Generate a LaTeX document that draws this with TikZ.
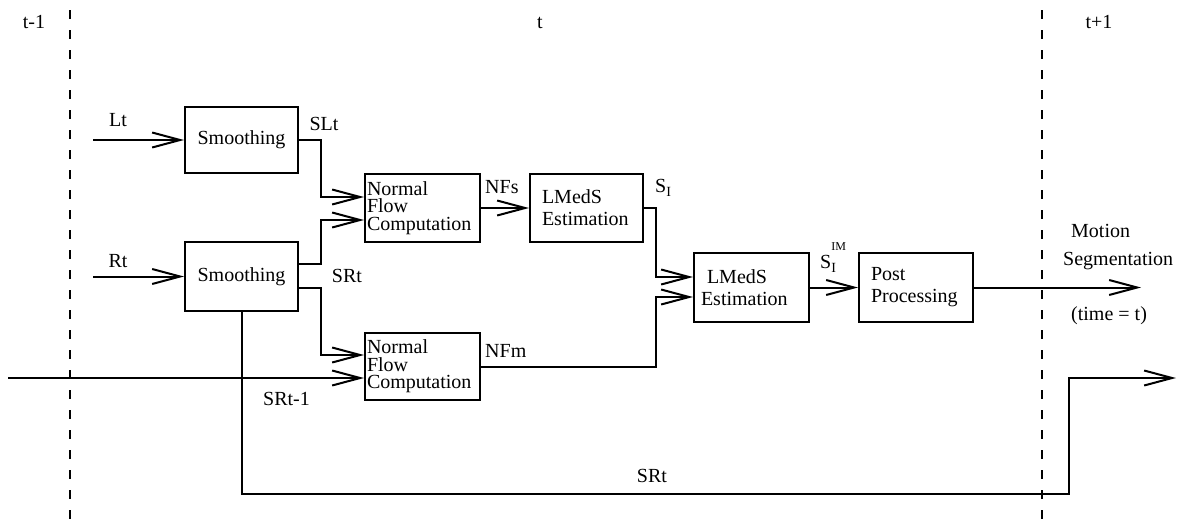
\documentclass[tikz,border=0pt]{standalone}
\usepackage{fontspec}
\setmainfont{Liberation Serif}
\usetikzlibrary{arrows.meta}
\newcommand{\subI}{\raisebox{-4pt}{\fontsize{14}{14}\selectfont I}}
\begin{document}
\begin{tikzpicture}[x=1pt,y=-1pt,
  wire/.style={line width=2pt},
  arr/.style={wire,-{Straight Barb[length=28pt,width=15pt]}},
  epoch/.style={line width=2pt,dash pattern=on 9pt off 11pt},
  box/.style={draw,line width=2pt,inner sep=0pt,font=\fontsize{20}{22}\selectfont},
  flowbox/.style={box,minimum width=115,minimum height=68,text width=111,
    inner xsep=2pt,align=left,font=\fontsize{20}{17.5}\selectfont},
  estbox/.style={box,minimum height=69,align=left},
  lbl/.style={inner sep=0pt,font=\fontsize{20}{22}\selectfont}]
\useasboundingbox (0,0) rectangle (1183,523);

% time boundaries
\draw[epoch] (70,10) coordinate (d1a) -- (70,523) coordinate (d1b);
\draw[epoch] (1042,10) coordinate (d2a) -- (1042,523) coordinate (d2b);
\node[lbl,anchor=base] (tm1) at (34,28) {t-1};
\node[lbl,anchor=base] (t0) at (540,28) {t};
\node[lbl,anchor=base] (tp1) at (1099,28) {t+1};

% processing blocks
\node[box,minimum width=113,minimum height=66] (sm1) at (241.5,140) {Smoothing};
\node[box,minimum width=113,minimum height=69] (sm2) at (241.5,276.5) {Smoothing};
\node[flowbox] (nf1) at (422.5,208) {Normal\\Flow\\Computation};
\node[flowbox,minimum height=67] (nf2) at (422.5,366.5) {Normal\\Flow\\Computation};
\node[estbox,minimum width=113,minimum height=68,text width=89,inner xsep=12pt] (lm1) at (586.5,208) {LMedS\\Estimation};
\node[estbox,minimum width=115,text width=101,inner xsep=7pt] (lm2) at (751.5,287.5) {\hspace*{6pt}LMedS\\Estimation};
\node[estbox,minimum width=114,text width=90,inner xsep=12pt] (pp) at (916,287.5) {Post\\Processing};

% free ends
\coordinate (ltin) at (93,140);
\coordinate (rtin) at (93,276.5);
\coordinate (previn) at (8,378);
\coordinate (segout) at (1141,287.5);
\coordinate (srtout) at (1176,378);

% connectors
\draw[arr] (ltin) -- (sm1.west);
\draw[arr] (rtin) -- (sm2.west);
\draw[arr] (sm1.east) -- ++(22,0) |- ([yshift=11pt]nf1.west);
\draw[arr] ([yshift=12.5pt]sm2.east) -- ++(22,0) |- ([yshift=-12pt]nf1.west);
\draw[arr] ([yshift=-11.5pt]sm2.east) -- ++(22,0) |- ([yshift=11.5pt]nf2.west);
\draw[arr] (previn) -- ([yshift=-11.5pt]nf2.west);
\draw[arr] (nf1.east) -- (lm1.west);
\draw[arr] (lm1.east) -- ++(12,0) |- ([yshift=10.5pt]lm2.west);
\draw[arr] (nf2.east) -- ++(175,0) |- ([yshift=-9.5pt]lm2.west);
\draw[arr] (lm2.east) -- (pp.west);
\draw[arr] (pp.east) -- (segout);
\draw[arr] (sm2.south) -- ++(0,181.5) -| (1069,378) -- (srtout);

% signal labels
\node[lbl,anchor=base] (llt) at (118,126) {Lt};
\node[lbl,anchor=base] (lrt) at (118,267) {Rt};
\node[lbl,anchor=base] (lslt) at (324,130) {SLt};
\node[lbl,anchor=base] (lsrt) at (347,282) {SRt};
\node[lbl,anchor=base west] (lsrtp) at (263,405) {SRt-1};
\node[lbl,anchor=base west] (lnfs) at (485,193) {NFs};
\node[lbl,anchor=base west] (lnfm) at (485,357) {NFm};
\node[lbl,anchor=base west] (lsi) at (655,192) {S\subI};
\node[lbl,anchor=base west] (lsim) at (820,268) {S\rlap{\subI}\raisebox{18pt}{\fontsize{12}{12}\selectfont IM}};
\node[lbl,anchor=base] (lsrtb) at (652,482) {SRt};
\node[lbl,anchor=base west] (lmot) at (1071,237) {Motion};
\node[lbl,anchor=base west] (lseg) at (1063,265) {Segmentation};
\node[lbl,anchor=base west] (ltime) at (1071,320) {(time = t)};
\end{tikzpicture}
\end{document}
